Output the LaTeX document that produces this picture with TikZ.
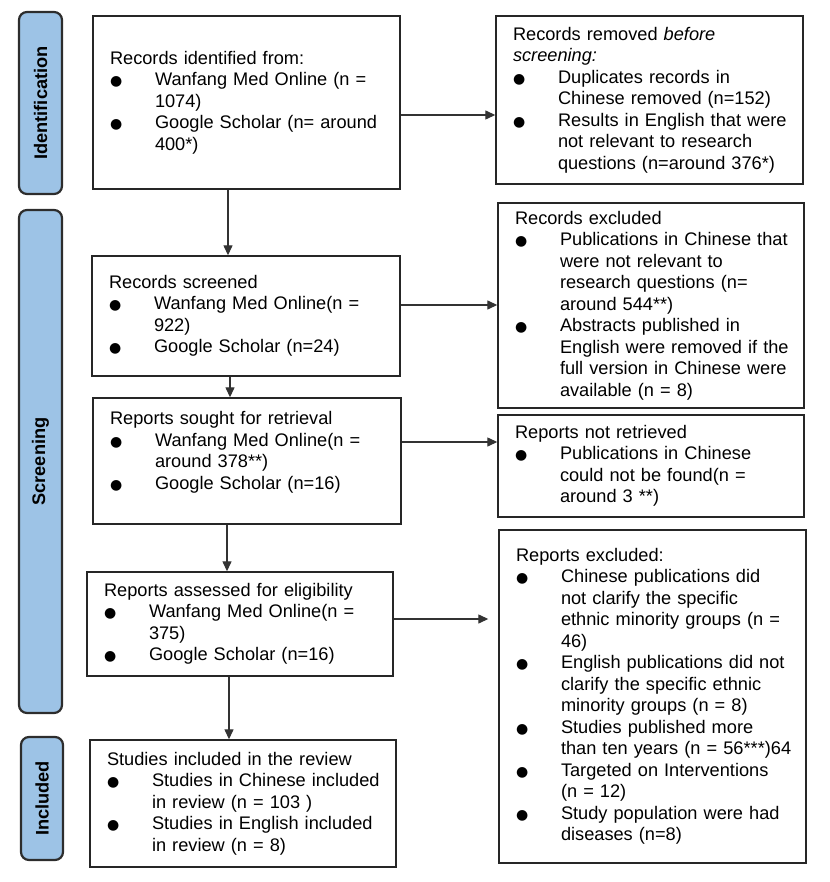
\documentclass[tikz,border=0pt]{standalone}
\usepackage{fontspec}
\setmainfont{Liberation Sans}
\newfontfamily\dotfont{DejaVu Sans}
\usetikzlibrary{arrows.meta, positioning}
\definecolor{stageblue}{RGB}{157, 195, 230}
\definecolor{stageedge}{RGB}{45, 45, 45}
\newcommand{\bdot}{{\dotfont\fontsize{14}{14}\selectfont ●}}
\newcommand{\boxhd}[1]{\leftskip=7pt\relax #1}
\newcommand{\bitem}[1]{\par\noindent\hangindent=45pt\makebox[45pt][l]{\bdot}#1\par}

\begin{document}
\begin{tikzpicture}[x=1pt, y=-1pt,
    stage/.style={draw=stageedge, line width=2.2pt, fill=stageblue, rounded corners=8pt,
        inner sep=0pt, font=\fontsize{18.2}{21.5}\selectfont\bfseries},
    flow/.style={draw=black!85, line width=1.4pt, align=left, inner xsep=10pt, inner ysep=0pt,
        font=\fontsize{18.2}{21.5}\selectfont},
    arr/.style={-{Triangle[length=10pt, width=9pt]}, line width=1.3pt, draw=black!80}]
    \useasboundingbox (0,0) rectangle (829,882);

    % phases
    \node[stage, minimum width=43pt, minimum height=182pt] (stIdent) at (40.5,103) {\rotatebox{90}{Identification}};
    \node[stage, minimum width=43pt, minimum height=503pt] (stScreen) at (40.5,461.5) {\rotatebox{90}{Screening}};
    \node[stage, minimum width=42pt, minimum height=123pt] (stIncl) at (42,798.5) {\rotatebox{90}{Included}};

    % main column
    \node[flow, text width=287pt, minimum height=173pt] (identified) at (246.5,102.5) {\boxhd{Records identified from:}
        \bitem{Wanfang Med Online (n =\newline 1074)}
        \bitem{Google Scholar (n= around\newline 400*)}};
    \node[flow, text width=288pt, minimum height=120pt] (screened) at (246,316) {\boxhd{Records screened}
        \bitem{Wanfang Med Online(n =\newline 922)}
        \bitem{Google Scholar (n=24)}};
    \node[flow, text width=288pt, minimum height=126pt] (sought) at (247,461) {\boxhd{Reports sought for retrieval}
        \bitem{Wanfang Med Online(n =\newline around 378**)}
        \bitem{Google Scholar (n=16)}\mbox{}\par};
    \node[flow, text width=286pt, minimum height=104pt] (assessed) at (240,624) {\boxhd{Reports assessed for eligibility}
        \bitem{Wanfang Med Online(n =\newline 375)}
        \bitem{Google Scholar (n=16)}};
    \node[flow, text width=286pt, minimum height=127pt] (included) at (243,803.5) {\boxhd{Studies included in the review}
        \bitem{Studies in Chinese included\newline in review (n = 103 )}
        \bitem{Studies in English included\newline in review (n = 8)}};

    % side column
    \node[flow, text width=287pt, minimum height=168pt] (removed) at (649.5,100) {\boxhd{Records removed \textit{before}\newline \textit{screening:}}
        \bitem{Duplicates records in\newline Chinese removed (n=152)}
        \bitem{Results in English that were\newline not relevant to research\newline questions (n=around 376*)}};
    \node[flow, text width=286pt, minimum height=205pt] (excluded) at (651,305.5) {\boxhd{Records excluded}
        \bitem{Publications in Chinese that\newline were not relevant to\newline research questions (n=\newline around 544**)}
        \bitem{Abstracts published in\newline English were removed if the\newline full version in Chinese were\newline available (n = 8)}};
    \node[flow, text width=286pt, minimum height=102pt] (notretr) at (651,466) {\boxhd{Reports not retrieved}
        \bitem{Publications in Chinese\newline could not be found(n =\newline around 3 **)}};
    \node[flow, text width=287pt, minimum height=333pt] (repexcl) at (652.5,696.5) {\boxhd{Reports excluded:}
        \bitem{Chinese publications did\newline not clarify the specific\newline ethnic minority groups (n =\newline 46)}
        \bitem{English publications did not\newline clarify the specific ethnic\newline minority groups (n = 8)}
        \bitem{Studies published more\newline than ten years (n = 56***)64}
        \bitem{Targeted on Interventions\newline (n = 12)}
        \bitem{Study population were had\newline diseases (n=8)}};

    % connectors
    \coordinate (colA) at (228,0);
    \coordinate (colB) at (230,0);
    \coordinate (colC) at (227,0);
    \coordinate (colD) at (229,0);
    \coordinate (rowA) at (0,115);
    \coordinate (rowB) at (0,305);
    \coordinate (rowC) at (0,442);
    \coordinate (rowD) at (0,619);
    \draw[arr] (identified.south -| colA) -- (screened.north -| colA);
    \draw[arr] (screened.south -| colB) -- (sought.north -| colB);
    \draw[arr] (sought.south -| colC) -- (assessed.north -| colC);
    \draw[arr] (assessed.south -| colD) -- (included.north -| colD);
    \draw[arr] (identified.east |- rowA) -- (removed.west |- rowA);
    \draw[arr] (screened.east |- rowB) -- (excluded.west |- rowB);
    \draw[arr] (sought.east |- rowC) -- (notretr.west |- rowC);
    \draw[arr, shorten >=10pt] (assessed.east |- rowD) -- (repexcl.west |- rowD);
\end{tikzpicture}
\end{document}
